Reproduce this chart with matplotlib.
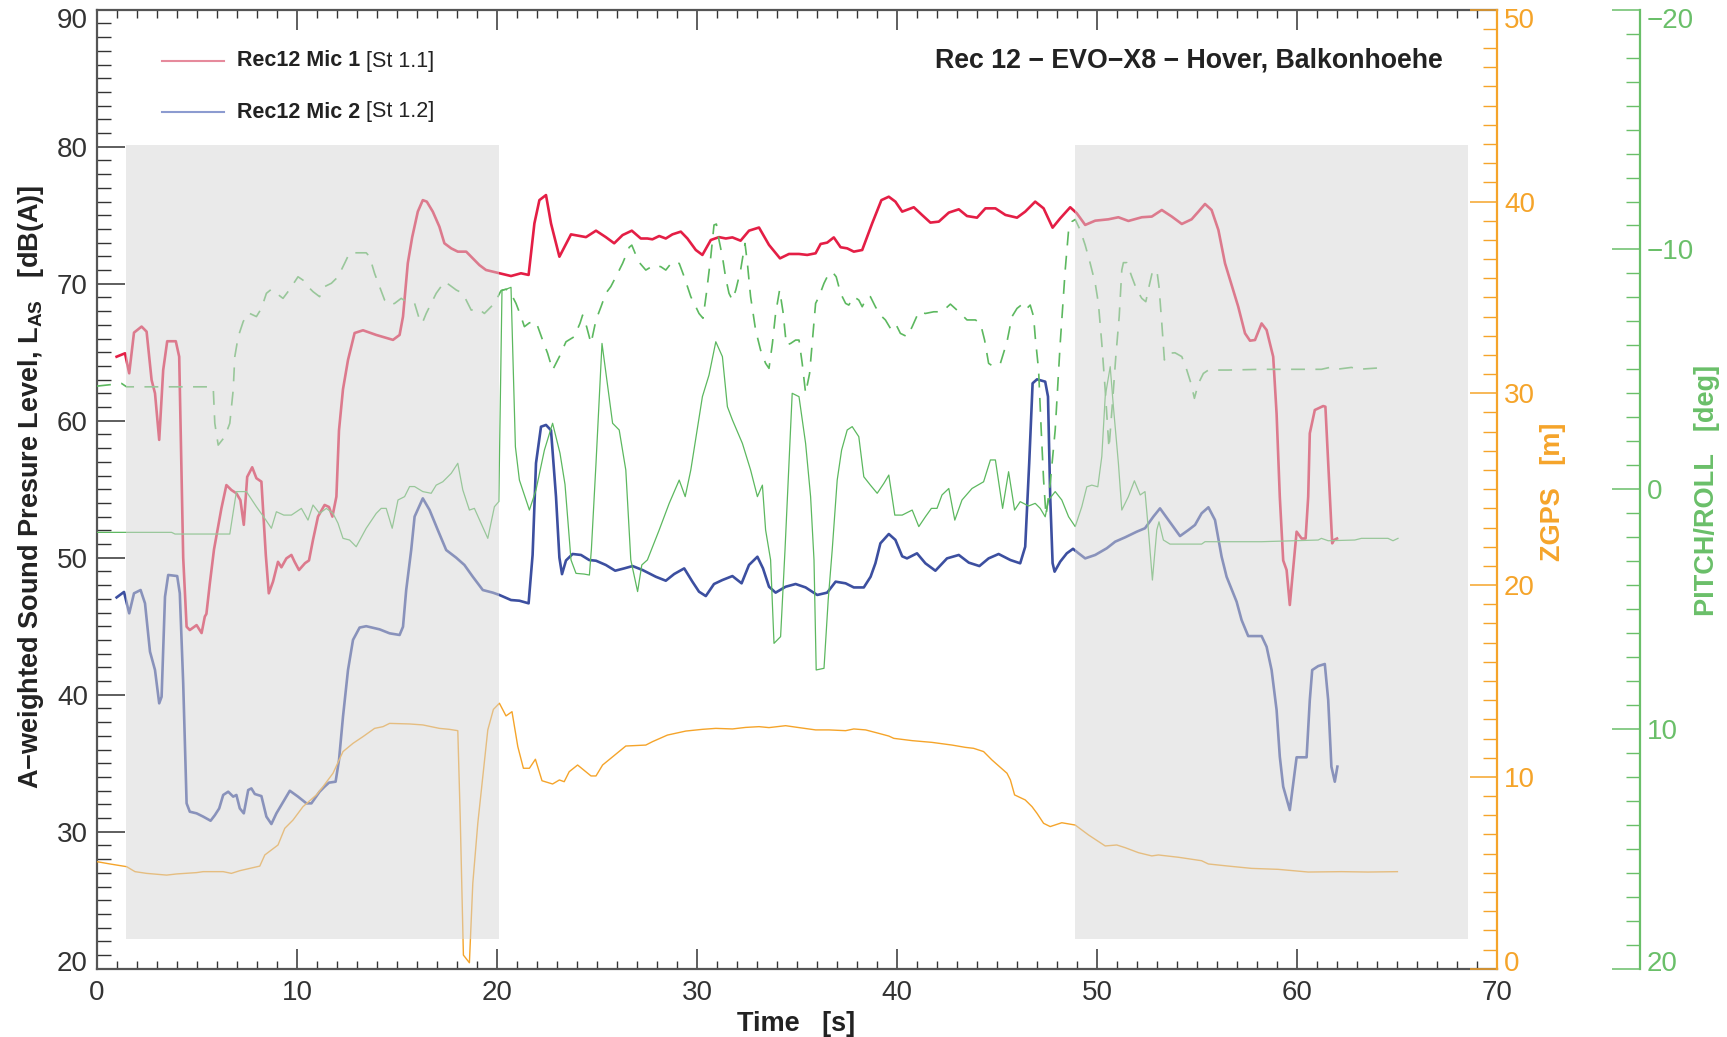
import matplotlib
matplotlib.use('Agg')
import matplotlib.pyplot as plt
from matplotlib.ticker import MultipleLocator
from matplotlib.patches import Rectangle
from matplotlib.lines import Line2D
from matplotlib.transforms import ScaledTranslation

plt.rcParams['font.family'] = ['Liberation Sans', 'DejaVu Sans']
plt.rcParams['mathtext.fontset'] = 'custom'
plt.rcParams['mathtext.rm'] = 'Liberation Sans'
plt.rcParams['mathtext.bf'] = 'Liberation Sans:bold'
plt.rcParams['lines.scale_dashes'] = False

# ---------------- data ----------------
mic1_t = [0.98, 1.40, 1.61, 1.85, 2.23, 2.48, 2.73, 2.90, 3.11, 3.31, 3.51, 3.94, 4.11, 4.31, 4.48,
          4.64, 4.98, 5.23, 5.39, 5.47, 5.64, 5.85, 6.22, 6.47, 6.72, 6.97, 7.17, 7.34, 7.51, 7.76,
          7.97, 8.22, 8.44, 8.59, 8.80, 9.05, 9.22, 9.47, 9.72, 9.88, 10.1, 10.4, 10.6, 10.8, 11.05,
          11.38, 11.6, 11.77, 11.97, 12.1, 12.3, 12.55, 12.88, 13.3, 13.96, 14.8, 15.13, 15.3, 15.54,
          15.76, 16.04, 16.29, 16.49, 16.79, 17.12, 17.37, 17.71, 18.04, 18.46, 18.79, 19.12, 19.45,
          20.12, 20.7, 21.2, 21.58, 21.87, 22.12, 22.45, 22.7, 23.12, 23.7, 24.45, 24.95, 25.44,
          25.86, 26.28, 26.74, 27.19, 27.52, 27.77, 28.11, 28.44, 28.77, 29.19, 29.52, 29.94, 30.27,
          30.69, 31.1, 31.44, 31.77, 32.18, 32.6, 33.1, 33.6, 34.15, 34.6, 35.1, 35.51, 35.93, 36.18,
          36.51, 36.84, 37.18, 37.51, 37.84, 38.26, 38.76, 39.22, 39.59, 39.92, 40.26, 40.84, 41.25,
          41.67, 42.09, 42.59, 43.09, 43.5, 44.0, 44.42, 44.92, 45.42, 46.0, 46.41, 46.91, 47.33,
          47.78, 48.16, 48.66, 48.99, 49.41, 49.91, 50.57, 51.07, 51.57, 52.24, 52.74, 53.24, 53.74,
          54.24, 54.73, 55.07, 55.4, 55.73, 56.07, 56.4, 56.81, 57.06, 57.4, 57.65, 57.9, 58.23,
          58.48, 58.81, 58.98, 59.14, 59.31, 59.48, 59.64, 59.8, 59.98, 60.23, 60.43, 60.56, 60.64,
          60.89, 61.31, 61.42, 61.56, 61.76, 61.86, 62.0]
mic1_db = [64.67, 64.92, 63.46, 66.43, 66.87, 66.5, 62.97, 62.0, 58.6, 63.7, 65.8, 65.8, 64.67, 50.0, 44.96,
           44.72, 45.08, 44.5, 45.7, 45.9, 48.1, 50.6, 53.6, 55.3, 54.94, 54.7, 54.2, 52.4, 55.9, 56.6,
           55.8, 55.55, 50.2, 47.4, 48.25, 49.7, 49.3, 49.95, 50.2, 49.7, 49.1, 49.6, 49.8, 51.3, 53.0,
           53.85, 53.7, 53.0, 54.46, 59.3, 62.3, 64.43, 66.4, 66.6, 66.26, 65.9, 66.26, 67.6, 71.5,
           73.4, 75.26, 76.1, 75.99, 75.26, 74.16, 72.95, 72.58, 72.34, 72.34, 71.85, 71.36, 71.0,
           70.76, 70.56, 70.76, 70.64, 74.4, 76.1, 76.47, 74.4, 71.97, 73.6, 73.4, 73.87, 73.4,
           72.95, 73.55, 73.87, 73.3, 73.3, 73.24, 73.48, 73.3, 73.6, 73.8, 73.3, 72.46, 72.1,
           73.19, 73.4, 73.3, 73.38, 73.14, 73.87, 74.1, 72.83, 71.85, 72.17, 72.17, 72.1, 72.22, 72.9,
           73.0, 73.38, 72.66, 72.58, 72.34, 72.46, 74.41, 76.1, 76.35, 75.99, 75.26, 75.58, 75.02,
           74.46, 74.53, 75.19, 75.43, 74.94, 74.82, 75.5, 75.5, 75.02, 74.82, 75.26, 75.99, 75.5,
           74.09, 74.77, 75.58, 75.14, 74.29, 74.6, 74.7, 74.85, 74.58, 74.85, 74.9, 75.38, 74.9,
           74.36, 74.7, 75.26, 75.82, 75.38, 73.92, 71.49, 69.54, 68.33, 66.38, 65.84, 65.89, 67.1,
           66.62, 64.67, 60.5, 54.45, 49.8, 49.1, 46.55, 49.1, 51.9, 51.4, 51.4, 54.45, 59.08,
           60.78, 61.07, 61.02, 56.9, 51.05, 51.3, 51.4]

mic2_t = [0.98, 1.35, 1.61, 1.85, 2.18, 2.4, 2.65, 2.9, 3.11, 3.23, 3.4, 3.56, 4.01, 4.14, 4.31, 4.48,
          4.64, 4.98, 5.31, 5.68, 5.89, 6.11, 6.31, 6.56, 6.81, 6.97, 7.14, 7.34, 7.56, 7.72, 7.89,
          8.22, 8.47, 8.72, 8.97, 9.22, 9.64, 10.05, 10.47, 10.72, 11.13, 11.38, 11.6, 11.93, 12.1,
          12.3, 12.55, 12.8, 13.13, 13.46, 14.13, 14.63, 15.13, 15.3, 15.46, 15.71, 15.88, 16.29,
          16.63, 17.04, 17.46, 17.96, 18.37, 18.79, 19.29, 19.79, 20.12, 20.7, 21.12, 21.58, 21.78,
          21.95, 22.2, 22.45, 22.7, 22.95, 23.12, 23.25, 23.45, 23.78, 24.2, 24.61, 24.95, 25.44,
          25.91, 26.36, 26.78, 27.28, 27.94, 28.44, 28.86, 29.36, 29.77, 30.1, 30.44, 30.85, 31.27,
          31.77, 32.23, 32.6, 33.02, 33.3, 33.6, 33.93, 34.43, 34.93, 35.43, 36.01, 36.51, 36.93,
          37.43, 37.84, 38.34, 38.68, 38.92, 39.17, 39.59, 39.92, 40.26, 40.5, 41.0, 41.42, 41.92,
          42.5, 43.09, 43.59, 44.12, 44.58, 45.08, 45.67, 46.16, 46.41, 46.61, 46.78, 47.0, 47.41,
          47.55, 47.66, 47.78, 47.88, 48.16, 48.49, 48.8, 49.08, 49.41, 49.91, 50.49, 50.91, 51.41,
          51.99, 52.4, 52.82, 53.15, 53.57, 54.15, 54.57, 54.9, 55.23, 55.57, 55.9, 56.23, 56.48,
          56.98, 57.23, 57.56, 58.23, 58.48, 58.73, 58.98, 59.14, 59.31, 59.64, 59.81, 59.98, 60.48,
          60.64, 60.76, 61.06, 61.39, 61.56, 61.72, 61.89, 62.02]
mic2_db = [47.1, 47.5, 45.94, 47.4, 47.64, 46.67, 43.14, 41.8, 39.37, 39.85, 47.15, 48.74, 48.66, 47.4, 40.83, 32.07,
           31.46, 31.34, 31.1, 30.8, 31.2, 31.7, 32.68, 32.92, 32.56, 32.68, 31.7, 31.34, 33.04, 33.16, 32.75,
           32.6, 31.1, 30.56, 31.34, 31.95, 32.99, 32.56, 32.07, 32.07, 32.92, 33.29, 33.58, 33.65, 35.23,
           38.4, 41.8, 44.0, 44.9, 45.0, 44.77, 44.48, 44.36, 44.96, 47.64, 50.56, 53.0, 54.33,
           53.48, 52.02, 50.56, 50.0, 49.47, 48.61, 47.64, 47.45, 47.28, 46.91, 46.86, 46.67, 50.2,
           56.9, 59.56, 59.69, 59.3, 54.46, 50.0, 48.8, 49.8, 50.27, 50.2, 49.83, 49.78, 49.47,
           49.05, 49.22, 49.39, 49.1, 48.61, 48.32, 48.81, 49.22, 48.25, 47.52, 47.2, 48.08, 48.37,
           48.66, 48.13, 49.47, 50.07, 49.22, 47.88, 47.45, 47.88, 48.08, 47.83, 47.28, 47.45, 48.25,
           48.13, 47.83, 47.83, 48.61, 49.59, 51.05, 51.73, 51.3, 50.1, 49.95, 50.32, 49.59, 49.05,
           49.95, 50.2, 49.64, 49.39, 49.95, 50.27, 49.83, 49.59, 50.8, 56.89, 62.73, 63.02, 62.85,
           61.76, 54.46, 49.6, 48.98, 49.71, 50.32, 50.65, 50.32, 49.95, 50.2, 50.69, 51.17, 51.49,
           51.9, 52.15, 53.0, 53.6, 52.75, 51.58, 52.02, 52.39, 53.24, 53.68, 52.75, 50.08, 48.61,
           46.79, 45.45, 44.28, 44.28, 43.5, 41.8, 38.88, 35.48, 33.29, 31.58, 33.53, 35.43, 35.43,
           39.61, 41.8, 42.09, 42.24, 39.61, 34.75, 33.65, 34.75]

zgps_t = [0.0, 0.65, 1.48, 1.9, 2.48, 3.48, 3.98, 4.98, 5.31, 6.31, 6.72, 7.14, 7.64, 8.14, 8.39, 9.05,
          9.39, 9.8, 10.3, 10.97, 11.3, 11.8, 12.3, 12.8, 13.3, 13.88, 14.3, 14.63, 15.63, 16.29,
          17.12, 17.62, 18.04, 18.16, 18.32, 18.62, 18.79, 19.04, 19.54, 19.82, 20.12, 20.45, 20.75,
          21.04, 21.32, 21.62, 21.92, 22.25, 22.78, 23.12, 23.36, 23.61, 24.03, 24.7, 24.95, 25.28,
          25.69, 26.44, 27.44, 27.78, 28.52, 29.44, 30.27, 30.94, 31.77, 32.43, 33.1, 33.6, 34.43,
          35.1, 35.93, 36.6, 37.43, 37.84, 38.43, 39.09, 39.59, 39.84, 40.76, 41.75, 42.75, 43.42,
          43.83, 44.33, 44.75, 45.5, 45.67, 45.88, 46.41, 46.75, 47.0, 47.33, 47.66, 48.24, 48.91,
          49.58, 50.41, 50.99, 51.41, 52.07, 52.74, 53.07, 54.07, 55.23, 55.57, 56.57, 57.73, 59.06,
          60.56, 62.22, 63.55, 65.02]
zgps_m = [5.58, 5.46, 5.32, 5.06, 4.97, 4.88, 4.94, 5.01, 5.06, 5.06, 4.97, 5.11, 5.23, 5.35, 5.93, 6.45,
          7.32, 7.75, 8.45, 9.06, 9.49, 10.19, 11.32, 11.75, 12.1, 12.53, 12.62, 12.79, 12.76, 12.71,
          12.53, 12.48, 12.41, 7.93, 0.71, 0.31, 4.45, 7.58, 12.45, 13.52, 13.84, 13.18, 13.4,
          11.58, 10.45, 10.45, 10.92, 9.8, 9.63, 9.84, 9.75, 10.27, 10.62, 10.05, 10.05, 10.62,
          10.97, 11.61, 11.66, 11.84, 12.18, 12.39, 12.48, 12.53, 12.5, 12.58, 12.62, 12.57, 12.67,
          12.57, 12.45, 12.45, 12.41, 12.5, 12.45, 12.27, 12.13, 12.01, 11.89, 11.8, 11.66, 11.54,
          11.49, 11.32, 10.88, 10.19, 9.84, 9.06, 8.8, 8.45, 8.1, 7.58, 7.41, 7.61, 7.49,
          6.97, 6.4, 6.45, 6.31, 6.05, 5.88, 5.93, 5.81, 5.63, 5.46, 5.35, 5.23, 5.18,
          5.04, 5.06, 5.04, 5.06]

pitch_t = [0.0, 3.73, 3.9, 6.64, 6.97, 7.47, 7.97, 8.39, 8.72, 8.97, 9.34, 9.72, 10.22, 10.55, 10.8,
           11.13, 11.47, 11.8, 12.05, 12.3, 12.63, 12.96, 13.46, 13.96, 14.21, 14.46, 14.76, 15.05,
           15.38, 15.63, 15.88, 16.29, 16.71, 16.96, 17.29, 17.71, 18.04, 18.29, 18.62, 18.87, 19.2,
           19.54, 19.87, 20.09, 20.25, 20.45, 20.7, 20.92, 21.12, 21.62, 21.95, 22.37, 22.78, 23.15,
           23.4, 23.7, 23.95, 24.36, 24.62, 24.72, 24.95, 25.25, 25.78, 26.11, 26.44, 26.69, 27.03,
           27.24, 27.52, 28.11, 28.61, 29.11, 29.41, 29.69, 30.27, 30.6, 30.94, 31.27, 31.52, 31.77,
           32.27, 32.68, 33.02, 33.27, 33.43, 33.68, 33.85, 34.18, 34.4, 34.76, 35.1, 35.43, 35.68,
           35.85, 35.96, 36.35, 36.56, 36.76, 37.01, 37.23, 37.51, 37.76, 38.09, 38.34, 38.67, 39.01,
           39.34, 39.59, 39.89, 40.26, 40.76, 41.09, 41.42, 41.72, 42.0, 42.25, 42.59, 42.89, 43.25,
           43.75, 44.33, 44.67, 44.92, 45.28, 45.58, 45.88, 46.16, 46.58, 46.91, 47.16, 47.41, 47.58,
           47.91, 48.24, 48.58, 48.91, 49.24, 49.49, 49.74, 50.04, 50.24, 50.41, 50.66, 50.82, 51.07,
           51.24, 51.57, 51.87, 52.16, 52.4, 52.57, 52.77, 52.99, 53.1, 53.32, 53.65, 55.23, 55.4,
           56.9, 58.23, 59.89, 61.06, 61.22, 61.56, 62.89, 63.22, 64.55, 64.8, 65.05]
pitch_deg = [1.8, 1.8, 1.87, 1.87, 0.1, 0.1, 0.73, 1.22, 1.63, 0.94, 1.08, 1.08, 0.8, 1.29, 0.66,
             1.01, 0.8, 1.01, 1.42, 2.05, 2.12, 2.4, 1.63, 1.01, 0.8, 0.8, 1.63, 0.45,
             0.31, -0.11, -0.11, 0.1, 0.17, -0.17, -0.31, -0.66, -1.08, 0.03, 0.87, 0.8, 1.42,
             2.05, 0.73, 0.52, -8.31, -8.34, -8.42, -1.77, -0.38, 0.87, 0.03, -1.63, -2.75, -1.5,
             -0.2, 2.95, 3.51, 3.54, 3.58, 2.5, -1.08, -6.08, -2.75, -2.47, -0.8, 2.95, 4.27,
             3.16, 2.95, 1.7, 0.59, -0.38, 0.31, -0.8, -3.86, -4.76, -6.15, -5.53, -3.44, -2.89,
             -1.91, -0.8, 0.31, -0.17, 1.7, 2.95, 6.43, 6.15, 2.54, -4.0, -3.86, -1.91, 0.31,
             2.95, 7.54, 7.47, 4.62, 2.54, -0.38, -1.63, -2.47, -2.61, -2.19, -0.52, -0.17, 0.17,
             -0.24, -0.59, 1.08, 1.08, 0.87, 1.56, 1.15, 0.8, 0.8, 0.24, -0.03, 1.29, 0.45,
             -0.03, -0.31, -1.22, -1.22, 0.8, -0.73, 0.87, 0.52, 0.7, 0.59, 0.8, 1.15, 0.45,
             0.1, 0.45, 1.15, 1.56, 0.73, -0.1, -0.17, -0.1, -1.36, -3.86, -5.11, -3.44, -1.08,
             0.87, 0.31, -0.35, 0.24, 0.1, 1.7, 3.79, 1.7, 1.36, 2.12, 2.29, 2.29, 2.19,
             2.19, 2.19, 2.15, 2.12, 2.05, 2.15, 2.12, 2.05, 2.05, 2.15, 2.05]

roll_t = [0.0, 1.23, 1.48, 5.81, 5.89, 6.06, 6.39, 6.64, 6.81, 6.89, 7.06, 7.31, 7.56, 7.97, 8.22,
          8.47, 8.72, 8.97, 9.3, 9.64, 10.05, 10.3, 10.55, 10.8, 11.13, 11.38, 11.72, 12.05, 12.38,
          12.63, 12.96, 13.46, 13.63, 13.88, 14.13, 14.38, 14.63, 14.88, 15.21, 15.46, 15.88, 16.13,
          16.26, 16.46, 16.96, 17.38, 17.62, 17.96, 18.29, 18.46, 18.71, 19.04, 19.37, 19.62, 19.87,
          20.2, 20.45, 20.65, 20.95, 21.2, 21.37, 21.62, 21.95, 22.28, 22.53, 22.78, 23.12, 23.45,
          23.86, 24.15, 24.28, 24.48, 24.7, 24.95, 25.2, 25.44, 25.69, 26.03, 26.28, 26.61, 26.74,
          27.08, 27.44, 27.86, 28.19, 28.44, 28.77, 29.11, 29.36, 29.69, 29.94, 30.1, 30.3, 30.47,
          30.69, 30.85, 30.97, 31.1, 31.27, 31.44, 31.6, 31.77, 31.94, 32.18, 32.4, 32.52, 32.68,
          32.93, 33.18, 33.43, 33.6, 33.77, 33.93, 34.13, 34.3, 34.47, 34.68, 34.93, 35.1, 35.26,
          35.43, 35.63, 35.76, 35.93, 36.1, 36.35, 36.51, 36.76, 36.96, 37.18, 37.43, 37.59, 37.84,
          38.09, 38.26, 38.51, 38.67, 38.92, 39.17, 39.42, 39.67, 39.92, 40.17, 40.51, 40.76, 41.09,
          41.42, 41.84, 42.25, 42.67, 43.09, 43.5, 43.92, 44.17, 44.38, 44.58, 44.83, 45.17, 45.5,
          45.75, 46.0, 46.21, 46.41, 46.66, 46.83, 46.91, 47.08, 47.21, 47.33, 47.45, 47.66, 47.91,
          48.16, 48.41, 48.58, 48.74, 48.91, 49.16, 49.41, 49.66, 49.91, 50.07, 50.24, 50.41, 50.6,
          50.8, 50.94, 51.11, 51.24, 51.32, 51.49, 51.74, 51.99, 52.24, 52.44, 52.6, 52.77, 52.99,
          53.1, 53.24, 53.37, 53.57, 53.9, 54.24, 54.49, 54.7, 54.87, 55.07, 55.32, 55.57, 56.57,
          58.23, 59.89, 61.22, 61.64, 61.97, 62.72, 63.06, 64.47]
roll_deg = [-4.3, -4.41, -4.27, -4.27, -2.75, -1.84, -2.19, -2.75, -4.14, -5.53, -6.36, -6.99, -7.36, -7.2, -7.54,
            -8.17, -8.34, -8.17, -7.96, -8.34, -8.86, -8.72, -8.45, -8.24, -8.03, -8.45, -8.59, -8.86, -9.42,
            -9.86, -9.86, -9.86, -9.7, -9.0, -8.45, -7.89, -7.68, -7.75, -7.96, -7.82, -7.75, -7.06,
            -6.92, -7.33, -8.17, -8.66, -8.52, -8.31, -8.17, -7.89, -7.47, -7.54, -7.33, -7.54, -7.75,
            -8.28, -8.34, -8.24, -7.75, -7.2, -6.78, -6.94, -6.99, -6.22, -5.67, -4.97, -5.53, -6.15,
            -6.36, -6.92, -7.26, -6.78, -6.08, -7.06, -7.61, -8.17, -8.45, -9.0, -9.42, -10.09, -10.18,
            -9.49, -9.14, -9.35, -9.28, -9.14, -9.49, -9.42, -8.86, -8.03, -7.61, -7.33, -7.13, -8.17,
            -9.7, -11.02, -11.06, -10.39, -9.7, -8.79, -8.17, -7.89, -8.31, -9.14, -10.25, -9.42, -8.03,
            -6.64, -5.8, -5.25, -5.04, -6.08, -7.33, -8.31, -7.4, -6.01, -6.08, -6.22, -6.22, -5.25,
            -4.0, -4.83, -6.08, -7.75, -8.03, -8.59, -8.86, -9.07, -8.86, -8.17, -7.75, -7.68, -8.03,
            -7.89, -7.61, -8.03, -8.03, -7.61, -7.26, -7.06, -6.71, -6.92, -6.5, -6.36, -6.78, -7.4,
            -7.33, -7.4, -7.4, -7.72, -7.4, -7.06, -7.06, -6.92, -6.22, -5.25, -5.11, -5.25, -6.15,
            -7.2, -7.54, -7.68, -7.47, -7.68, -7.2, -6.36, -4.97, -2.47, -0.38, 1.1, -0.24, -2.47,
            -6.08, -9.14, -10.81, -11.16, -11.25, -10.81, -10.18, -9.42, -8.59, -7.75, -6.08, -4.14, -1.7,
            -3.9, -5.53, -7.2, -9.14, -9.45, -9.45, -8.86, -8.31, -7.96, -7.82, -8.45, -9.07, -9.14,
            -8.45, -6.92, -5.39, -5.67, -5.69, -5.53, -4.97, -4.41, -3.79, -4.41, -4.83, -4.97, -4.97,
            -5.0, -5.0, -5.0, -5.08, -5.0, -5.08, -5.0, -5.08]

shade_spans = [(1.45, 20.12), (48.91, 68.55)]
shade_db = (22.15, 80.12)

xticks_major = 10
title_text = "Rec 12 \u2212 EVO\u2212X8 \u2212 Hover, Balkonhoehe"
legend_bold = ["Rec12 Mic 1", "Rec12 Mic 2"]
legend_reg = [" [St 1.1]", " [St 1.2]"]

# ---------------- style ----------------
RED = '#e41e45'
BLUE = '#3c4fa0'
ORANGE = '#f5a42a'
GREEN = '#5cb85f'
GREEN_AX = '#6abf69'
TXT = '#222222'
SPINE = '#555555'

W, H = 1727, 1037
fig = plt.figure(figsize=(W / 100, H / 100), dpi=100)
ax = fig.add_axes([97 / W, 1 - 968.7 / H, 1400 / W, 959 / H])
ax2 = ax.twinx()
ax3 = ax.twinx()

ax.plot(mic1_t, mic1_db, color=RED, lw=1.9, solid_joinstyle='round')
ax.plot(mic2_t, mic2_db, color=BLUE, lw=1.9, solid_joinstyle='round')
ax2.plot(zgps_t, zgps_m, color=ORANGE, lw=1.0)
ax3.plot(pitch_t, pitch_deg, color=GREEN, lw=0.9)
ax3.plot(roll_t, roll_deg, color=GREEN, lw=1.2, ls=(0, (10, 7.5)))

for x0, x1 in shade_spans:
    ax3.add_patch(Rectangle((x0, shade_db[0]), x1 - x0, shade_db[1] - shade_db[0],
                            transform=ax.transData, facecolor='#d6d6d6', alpha=0.5,
                            edgecolor='none', zorder=10))

# main axis
ax.set_xlim(0, 70)
ax.set_ylim(20, 90)
ax.xaxis.set_major_locator(MultipleLocator(xticks_major))
ax.xaxis.set_minor_locator(MultipleLocator(1))
ax.yaxis.set_major_locator(MultipleLocator(10))
ax.yaxis.set_minor_locator(MultipleLocator(1))
ax.tick_params(axis='x', which='both', direction='in', top=True, bottom=True,
               labelsize=20, labelcolor='#333333', color='#333333', pad=8)
ax.tick_params(axis='x', which='major', length=14.4, width=1.1)
ax.tick_params(axis='x', which='minor', length=5.8, width=1.0)
ax.tick_params(axis='y', which='both', direction='in', left=True, right=False,
               labelsize=20, labelcolor='#333333', color='#333333', pad=6.5)
ax.tick_params(axis='y', which='major', length=20, width=1.1)
ax.tick_params(axis='y', which='minor', length=10, width=1.0)
ax.spines['right'].set_visible(False)
for s in ['left', 'bottom', 'top']:
    ax.spines[s].set_color(SPINE)
    ax.spines[s].set_linewidth(1.6)

# orange axis
ax2.set_ylim(0, 50)
ax2.yaxis.set_major_locator(MultipleLocator(10))
ax2.yaxis.set_minor_locator(MultipleLocator(1))
for s in ['left', 'bottom', 'top']:
    ax2.spines[s].set_visible(False)
ax2.spines['right'].set_color(ORANGE)
ax2.spines['right'].set_linewidth(1.6)
ax2.tick_params(axis='y', which='both', direction='in', right=True, left=False,
                labelsize=20, labelcolor=ORANGE, color=ORANGE, pad=5)
ax2.tick_params(axis='y', which='major', length=19.5, width=1.1)
ax2.tick_params(axis='y', which='minor', length=10, width=1.0)

# green axis
ax3.set_ylim(20, -20)
ax3.yaxis.set_major_locator(MultipleLocator(10))
ax3.yaxis.set_minor_locator(MultipleLocator(1))
for s in ['left', 'bottom', 'top']:
    ax3.spines[s].set_visible(False)
ax3.spines['right'].set_position(('axes', (1640 - 97) / 1400))
ax3.spines['right'].set_color(GREEN_AX)
ax3.spines['right'].set_linewidth(1.6)
ax3.tick_params(axis='y', which='both', direction='in', right=True, left=False,
                labelsize=20, labelcolor=GREEN_AX, color=GREEN_AX, pad=5)
ax3.tick_params(axis='y', which='major', length=20, width=1.1)
ax3.tick_params(axis='y', which='minor', length=10, width=1.0)

# labels
fig.text(796 / W, 1 - 1024 / H, "Time   [s]", ha='center', va='center',
         fontsize=19.5, fontweight='bold', color=TXT)
fig.text(31 / W, 1 - 487 / H,
         "A\u2212weighted Sound Presure Level, L$_\\mathbf{AS}$   [dB(A)]",
         rotation=90, ha='center', va='center', fontsize=19.5, fontweight='bold', color=TXT)
fig.text(1553 / W, 1 - 492 / H, "ZGPS   [m]", rotation=90, ha='center', va='center',
         fontsize=19.5, fontweight='bold', color=ORANGE)
fig.text(1707 / W, 1 - 490 / H, "PITCH/ROLL   [deg]", rotation=90, ha='center', va='center',
         fontsize=19.5, fontweight='bold', color=GREEN_AX)

# title
fig.text(1443 / W, 1 - 61 / H, title_text, ha='right', va='center',
         fontsize=19.3, fontweight='bold', color=TXT)

# legend
leg_cols = ['#e68a9c', '#8c9bd0']
for i, (yb, col) in enumerate(zip([61, 112], leg_cols)):
    fy = 1 - yb / H
    fig.add_artist(Line2D([162 / W, 224 / W], [fy, fy], color=col, lw=1.5,
                          transform=fig.transFigure))
    t1 = fig.text(237 / W, fy, legend_bold[i], ha='left', va='center',
                  fontsize=15.5, fontweight='bold', color=TXT)
    ax.annotate(legend_reg[i], xy=(1, 0.5), xycoords=t1, ha='left', va='center',
                fontsize=15.5, color=TXT, annotation_clip=False)

# end tick labels nudged inside the axis range (as in the reference)
fig.canvas.draw()
shift_top = ScaledTranslation(0, -8.5 / 100, fig.dpi_scale_trans)
shift_bot = ScaledTranslation(0, 7.5 / 100, fig.dpi_scale_trans)
for a in (ax, ax2, ax3):
    ticks = a.yaxis.get_major_ticks()
    locs = a.yaxis.get_majorticklocs()
    lo, hi = a.get_ylim()
    for tk, v in zip(ticks, locs):
        at_top = (abs(v - hi) < 1e-6)
        at_bot = (abs(v - lo) < 1e-6)
        if at_top or at_bot:
            sh = shift_top if at_top else shift_bot
            for lab in (tk.label1, tk.label2):
                lab.set_transform(lab.get_transform() + sh)

fig.savefig('out.png', dpi=100)
